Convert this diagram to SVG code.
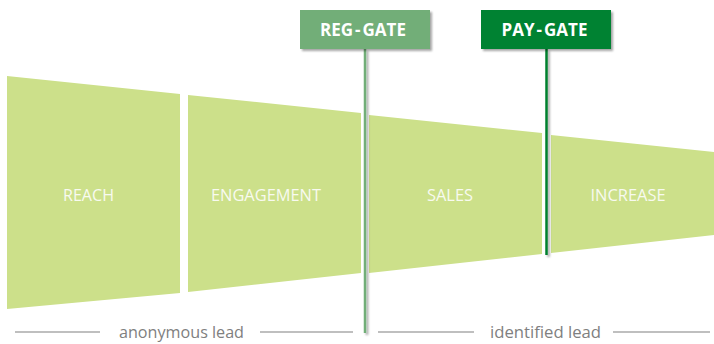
<svg xmlns="http://www.w3.org/2000/svg" width="714" height="344" viewBox="0 0 714 344">
<defs>
<filter id="sh" x="-20%" y="-20%" width="150%" height="150%">
<feDropShadow dx="2" dy="2" stdDeviation="1.2" flood-color="#000" flood-opacity="0.35"/>
</filter>
<style>
.seg{fill:#cce08a}
.segt{font-family:"Open Sans","Liberation Sans",sans-serif;font-size:16px;fill:#f8faf0;text-anchor:middle}
.gt{font-family:"Open Sans","Liberation Sans",sans-serif;font-size:17px;font-weight:bold;fill:#ffffff;text-anchor:middle}
.bt{font-family:"Open Sans","Liberation Sans",sans-serif;font-size:16px;fill:#808080;text-anchor:middle}
.rule{stroke:#808080;stroke-width:1.2}
</style>
</defs>
<rect width="714" height="344" fill="#ffffff"/>
<g id="reach">
<polygon class="seg" points="7,76 180,94 180,293 7,309"/>
<text class="segt" x="88.5" y="201" textLength="51" lengthAdjust="spacingAndGlyphs">REACH</text>
</g>
<g id="engagement">
<polygon class="seg" points="188,95 361,113 361,273 188,292"/>
<text class="segt" x="266" y="201" textLength="110" lengthAdjust="spacingAndGlyphs">ENGAGEMENT</text>
</g>
<g id="sales">
<polygon class="seg" points="369,115 542,133 542,254 369,273"/>
<text class="segt" x="450" y="201" textLength="46" lengthAdjust="spacingAndGlyphs">SALES</text>
</g>
<g id="increase">
<polygon class="seg" points="551,135 714,152 714,235 551,253"/>
<text class="segt" x="628" y="201" textLength="75" lengthAdjust="spacingAndGlyphs">INCREASE</text>
</g>
<g id="connectors" filter="url(#sh)">
<line x1="365" y1="49" x2="365" y2="333" stroke="#72ae78" stroke-width="2.5"/>
<line x1="546.5" y1="49" x2="546.5" y2="255" stroke="#00802f" stroke-width="2.5"/>
</g>
<g id="reg-gate">
<rect x="300" y="10" width="130" height="39" fill="#72ae78" filter="url(#sh)"/>
<text class="gt" x="363" y="36">REG<tspan dx="2">-</tspan><tspan dx="2">GATE</tspan></text>
</g>
<g id="pay-gate">
<rect x="481" y="10" width="130" height="39" fill="#008232" filter="url(#sh)"/>
<text class="gt" x="544.5" y="36">PAY<tspan dx="2">-</tspan><tspan dx="2">GATE</tspan></text>
</g>
<g id="anonymous-lead">
<line class="rule" x1="15" y1="332" x2="100" y2="332"/>
<text class="bt" x="181.5" y="338" textLength="125" lengthAdjust="spacingAndGlyphs">anonymous lead</text>
<line class="rule" x1="260" y1="332" x2="353" y2="332"/>
</g>
<g id="identified-lead">
<line class="rule" x1="378" y1="332" x2="474" y2="332"/>
<text class="bt" x="545.5" y="338" textLength="111" lengthAdjust="spacingAndGlyphs">identified lead</text>
<line class="rule" x1="613" y1="332" x2="710" y2="332"/>
</g>
</svg>
